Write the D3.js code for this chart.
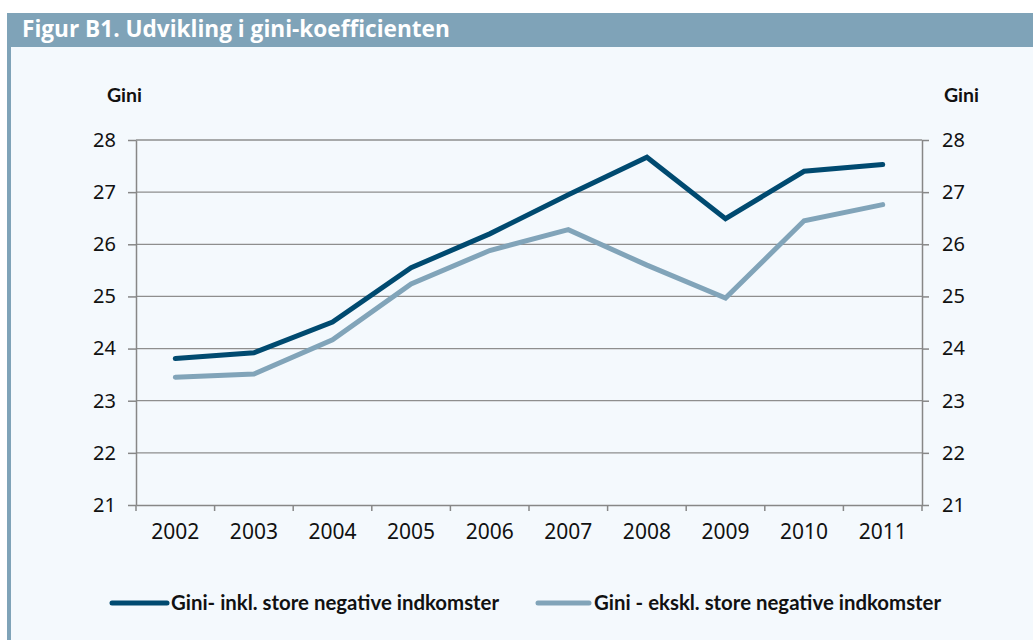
<!DOCTYPE html>
<html>
<head>
<meta charset="utf-8">
<script src="https://cdn.jsdelivr.net/npm/d3@7"></script>
<style>
  html, body { margin: 0; padding: 0; background: #ffffff; }
  svg { display: block; }
</style>
</head>
<body>
<script>
const years = ["2002","2003","2004","2005","2006","2007","2008","2009","2010","2011"];
const giniIncl = [23.81, 23.92, 24.51, 25.55, 26.2, 26.95, 27.67, 26.49, 27.4, 27.53];
const giniExcl = [23.45, 23.51, 24.17, 25.24, 25.88, 26.28, 25.6, 24.97, 26.45, 26.76];
const yTicks = [21, 22, 23, 24, 25, 26, 27, 28];
const seriesNames = ["Gini- inkl. store negative indkomster", "Gini - ekskl. store negative indkomster"];
const title = "Figur B1. Udvikling i gini-koefficienten";
const axisTitle = "Gini";

(function () {
const W = 1033, H = 640;
const colDark = "#004a70", colLight = "#81a4b9", frameCol = "#7fa3b8";
const axisCol = "#878787";
const numFont = "'Noto Sans', 'Open Sans', sans-serif";

const svg = d3.select("body").append("svg").attr("width", W).attr("height", H);

// panel background, border and title bar
svg.append("rect").attr("x", 7).attr("y", 13).attr("width", W - 7).attr("height", H - 13).attr("fill", "#f4f9fd");
svg.append("rect").attr("x", 7).attr("y", 13).attr("width", 4).attr("height", H - 13).attr("fill", frameCol);
svg.append("rect").attr("x", 7).attr("y", 13).attr("width", W - 7).attr("height", 34).attr("fill", frameCol);
svg.append("text").attr("x", 22).attr("y", 37).text(title)
  .attr("fill", "#ffffff").attr("font-family", "'Open Sans', sans-serif")
  .attr("font-weight", 700).attr("font-size", 22.6);

const pL = 136, pR = 922, pT = 140, pB = 505;
const x = d3.scaleBand().domain(years).range([pL, pR]);
const y = d3.scaleLinear().domain([21, 28]).range([pB, pT]);

// gridlines
svg.append("g").selectAll("line").data(yTicks.filter(d => d > 21)).join("line")
  .attr("x1", pL).attr("x2", pR).attr("y1", d => y(d)).attr("y2", d => y(d))
  .attr("stroke", "#8e8e8e").attr("stroke-width", 1.3);

function styleAxis(g, size) {
  g.select(".domain").attr("stroke", axisCol).attr("stroke-width", 1.5);
  g.selectAll(".tick line").attr("stroke", axisCol).attr("stroke-width", 1.5);
  g.selectAll("text").attr("font-family", numFont).attr("font-size", size).attr("fill", "#111");
}

// left axis
const gl = svg.append("g").attr("transform", `translate(${pL},0)`)
  .call(d3.axisLeft(y).tickValues(yTicks).tickFormat(d3.format("d")).tickSize(8).tickSizeOuter(0).tickPadding(12));
styleAxis(gl, 20);
// right axis
const gr = svg.append("g").attr("transform", `translate(${pR},0)`)
  .call(d3.axisRight(y).tickValues(yTicks).tickFormat(d3.format("d")).tickSize(7).tickSizeOuter(0).tickPadding(13));
styleAxis(gr, 20);

// bottom axis with ticks at band boundaries
const gb = svg.append("g").attr("transform", `translate(0,${pB})`)
  .call(d3.axisBottom(x).tickSize(0).tickSizeOuter(0).tickPadding(19));
styleAxis(gb, 21);
const bounds = years.map(d => x(d)).concat([x(years[years.length - 1]) + x.bandwidth()]);
gb.selectAll("line.bt").data(bounds).join("line").attr("class", "bt")
  .attr("x1", d => d).attr("x2", d => d).attr("y1", 0).attr("y2", 6)
  .attr("stroke", axisCol).attr("stroke-width", 1.5);

// axis titles
svg.append("text").attr("x", 107).attr("y", 102).text(axisTitle)
  .attr("font-family", "Lato, sans-serif").attr("font-weight", 700).attr("font-size", 19.5).attr("fill", "#111");
svg.append("text").attr("x", 944).attr("y", 102).text(axisTitle)
  .attr("font-family", "Lato, sans-serif").attr("font-weight", 700).attr("font-size", 19.5).attr("fill", "#111");

// lines
const line = d3.line().x((d, i) => x(years[i]) + x.bandwidth() / 2).y(d => y(d));
[[giniExcl, colLight], [giniIncl, colDark]].forEach(([vals, c]) => {
  svg.append("path").datum(vals).attr("d", line).attr("fill", "none")
    .attr("stroke", c).attr("stroke-width", 5).attr("stroke-linejoin", "miter").attr("stroke-linecap", "round");
});

// legend
const legend = [
  { name: seriesNames[0], color: colDark, x0: 112, x1: 167, tx: 171 },
  { name: seriesNames[1], color: colLight, x0: 538, x1: 589, tx: 594 }
];
const lg = svg.append("g");
legend.forEach(l => {
  lg.append("line").attr("x1", l.x0).attr("x2", l.x1).attr("y1", 603).attr("y2", 603)
    .attr("stroke", l.color).attr("stroke-width", 5).attr("stroke-linecap", "round");
  lg.append("text").attr("x", l.tx).attr("y", 610).text(l.name)
    .attr("font-family", "Lato, sans-serif").attr("font-weight", 700).attr("font-size", 20.4).attr("fill", "#111");
});
})();
</script>
</body>
</html>
